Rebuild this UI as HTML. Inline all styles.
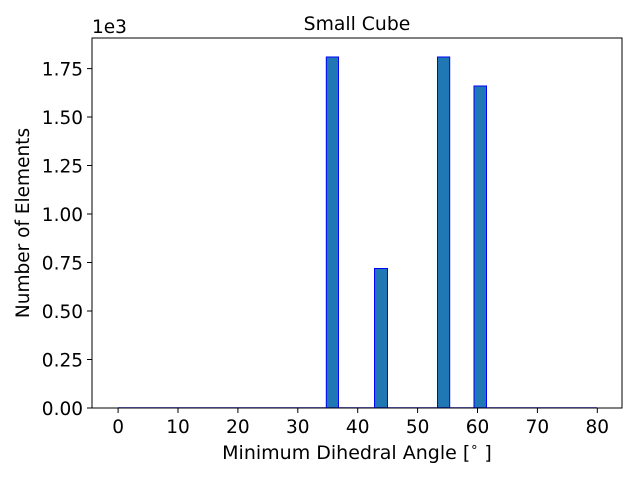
<!DOCTYPE html>
<html><head><style>body{margin:0;background:#fff}svg text{font-family:"DejaVu Sans","Liberation Sans",sans-serif;fill:#000}</style></head><body>
<svg width="640" height="480" xmlns="http://www.w3.org/2000/svg">
<rect width="640" height="480" fill="#fff"/>
<g fill="#1f77b4" stroke="#0000ff" stroke-width="1">
<rect x="326.3" y="57" width="12.2" height="351"/>
<rect x="374.5" y="268.5" width="13" height="139.5"/>
<rect x="437.5" y="57" width="12.2" height="351"/>
<rect x="474" y="86" width="12.5" height="322"/>
</g>
<line x1="118" y1="407.5" x2="597" y2="407.5" stroke="#0000ff" stroke-width="1" opacity="0.5"/>
<rect x="92" y="38" width="530" height="370" fill="none" stroke="#000" stroke-width="1"/>
<g stroke="#000" stroke-width="1">
<line x1="118.1" y1="408" x2="118.1" y2="413"/><line x1="178" y1="408" x2="178" y2="413"/><line x1="237.9" y1="408" x2="237.9" y2="413"/><line x1="297.8" y1="408" x2="297.8" y2="413"/><line x1="357.7" y1="408" x2="357.7" y2="413"/><line x1="417.6" y1="408" x2="417.6" y2="413"/><line x1="477.5" y1="408" x2="477.5" y2="413"/><line x1="537.4" y1="408" x2="537.4" y2="413"/><line x1="597.3" y1="408" x2="597.3" y2="413"/>
<line x1="87" y1="408" x2="92" y2="408"/><line x1="87" y1="359.5" x2="92" y2="359.5"/><line x1="87" y1="311" x2="92" y2="311"/><line x1="87" y1="262.5" x2="92" y2="262.5"/><line x1="87" y1="214" x2="92" y2="214"/><line x1="87" y1="165.5" x2="92" y2="165.5"/><line x1="87" y1="117" x2="92" y2="117"/><line x1="87" y1="68.6" x2="92" y2="68.6"/>
</g>
<g font-size="18.5" text-anchor="middle">
<text x="118.1" y="433">0</text><text x="178" y="433">10</text><text x="237.9" y="433">20</text><text x="297.8" y="433">30</text><text x="357.7" y="433">40</text><text x="417.6" y="433">50</text><text x="477.5" y="433">60</text><text x="537.4" y="433">70</text><text x="597.3" y="433">80</text>
</g>
<g font-size="18.5" text-anchor="end">
<text x="83" y="415">0.00</text><text x="83" y="366.5">0.25</text><text x="83" y="318">0.50</text><text x="83" y="269.5">0.75</text><text x="83" y="221">1.00</text><text x="83" y="172.5">1.25</text><text x="83" y="124">1.50</text><text x="83" y="75.6">1.75</text>
</g>
<text x="92" y="33" font-size="18.5">1e3</text>
<text x="357" y="30" font-size="18.8" text-anchor="middle">Small Cube</text>
<text x="357" y="459" font-size="19" text-anchor="middle">Minimum Dihedral Angle [<tspan font-size="13" dy="-8">∘</tspan><tspan dy="8"> ]</tspan></text>
<text transform="translate(29,223) rotate(-90)" font-size="18.5" text-anchor="middle">Number of Elements</text>
</svg>
</body></html>
